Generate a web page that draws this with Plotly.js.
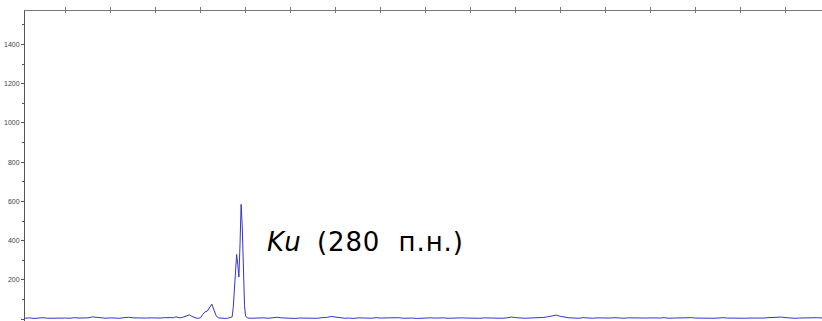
<!DOCTYPE html>
<html>
<head>
<meta charset="utf-8">
<script src="https://cdn.plot.ly/plotly-3.0.1.min.js"></script>
<style>
  html, body { margin: 0; padding: 0; background: #fff; overflow: hidden; }
  #chart { width: 822px; height: 321px; }
  .annotation-text { letter-spacing: 0.9px; }
</style>
</head>
<body>
<div id="chart"></div>
<script>
// Electropherogram trace: position (scan units) and signal (RFU)
const baseX1 = [0,1,2,3,4,5,6,7,8,9,10,11,12,13,14,15,16,17,18,19,20,21,22,23,24,25,26,27,28,29,30,31];
const baseY1 = [5,7,4,6,8,5,6,4,7,6,5,8,6,5,7,12,9,6,5,7,6,5,8,10,7,6,5,6,7,5,6,8];

const peakX = [32,32.5,33,33.5,34,34.5,35,35.5,36,36.5,37,37.5,38,38.5,39,39.5,40,40.5,41,41.5,42,42.5,43,43.5,44,44.5,45,45.5,46,46.25,46.5,46.75,47,47.25,47.5,47.75,48,48.25,48.5,48.75,49,49.5,50];
const peakY = [7,10,8,12,9,7,10,13,18,22,15,9,6,5,8,25,38,42,60,77,45,15,7,5,6,4,5,7,12,60,150,260,330,280,215,380,585,470,230,70,15,6,5];

const baseX2 = [51,52,53,54,55,56,57,58,59,60,61,62,63,64,65,66,67,68,69,70,71,72,73,74,75,76,77,78,79,80,
  81,82,83,84,85,86,87,88,89,90,91,92,93,94,95,96,97,98,99,100,101,102,103,104,105,106,107,108,109,110,
  111,112,113,114,115,116,117,118,119,120,121,122,123,124,125,126,127,128,129,130,131,132,133,134,135,136,137,138,139,140,
  141,142,143,144,145,146,147,148,149,150,151,152,153,154,155,156,157,158,159,160,161,162,163,164,165,166,167,168,169,170,
  171,172,173,174,175,176,177];
const baseY2 = [6,5,7,5,8,10,7,5,6,4,6,5,7,6,5,8,9,14,10,6,5,6,4,7,5,6,5,8,6,7,
  5,6,8,5,7,6,4,6,5,7,6,8,7,5,6,9,7,6,5,6,5,7,6,8,6,5,7,11,8,6,
  5,6,7,6,9,12,15,21,14,9,7,6,5,8,6,5,7,6,5,6,8,6,5,7,6,5,4,6,7,5,
  6,8,5,6,7,5,6,8,6,5,7,6,5,6,8,6,5,7,6,5,6,5,7,6,8,10,12,11,8,6,
  5,6,7,5,6,8,6];

const yTickVals = [0,200,400,600,800,1000,1200,1400];
const peakLabel = 'Ku';
const sizeLabel = '\u2009 (280\u00a0 п.н.)';

const xs = baseX1.concat(peakX, baseX2);
const ys = baseY1.concat(peakY, baseY2);

const trace = {
  x: xs, y: ys, type: 'scatter', mode: 'lines',
  line: { color: '#3434cc', width: 1 },
  hoverinfo: 'skip', showlegend: false
};
// invisible trace so the second (overlaying) top axis gets drawn
const ghost = { x: [0, 177], y: [0, 0], xaxis: 'x2', yaxis: 'y', mode: 'lines',
  line: { width: 0 }, hoverinfo: 'skip', showlegend: false };

const layout = {
  width: 822, height: 321,
  margin: { l: 25, r: 0, t: 11, b: 0 },
  paper_bgcolor: '#ffffff', plot_bgcolor: '#ffffff',
  xaxis: {
    range: [0, 177], side: 'top', showgrid: false, zeroline: false,
    showline: true, linecolor: '#777', linewidth: 1.5,
    ticks: 'outside', ticklen: 3, tickcolor: '#777', tickwidth: 1,
    tick0: 9, dtick: 10, showticklabels: false
  },
  xaxis2: {
    range: [0, 177], overlaying: 'x', side: 'top', showgrid: false, zeroline: false,
    showline: false, ticks: 'inside', ticklen: 2, tickcolor: '#777', tickwidth: 1,
    tick0: 9, dtick: 10, showticklabels: false
  },
  yaxis: {
    range: [-9, 1570], showgrid: false, zeroline: false,
    showline: true, linecolor: '#555', linewidth: 1,
    ticks: 'outside', ticklen: 3, tickcolor: '#555', tickwidth: 1,
    tickmode: 'array', tickvals: yTickVals, ticktext: yTickVals.map(String),
    tickfont: { family: 'Liberation Sans, Arial, sans-serif', size: 7, color: '#444' },
    minor: { dtick: 100, tick0: 0, ticks: 'outside', ticklen: 2, tickcolor: '#555' }
  },
  annotations: [{
    x: 53.3, y: 392, xref: 'x', yref: 'y', xanchor: 'left', yanchor: 'middle',
    text: '<i>' + peakLabel + '</i>' + sizeLabel, showarrow: false,
    font: { family: 'DejaVu Sans, Verdana, sans-serif', size: 26, color: '#000' }
  }]
};

Plotly.newPlot('chart', [trace, ghost], layout, { staticPlot: true, displayModeBar: false });
</script>
</body>
</html>
